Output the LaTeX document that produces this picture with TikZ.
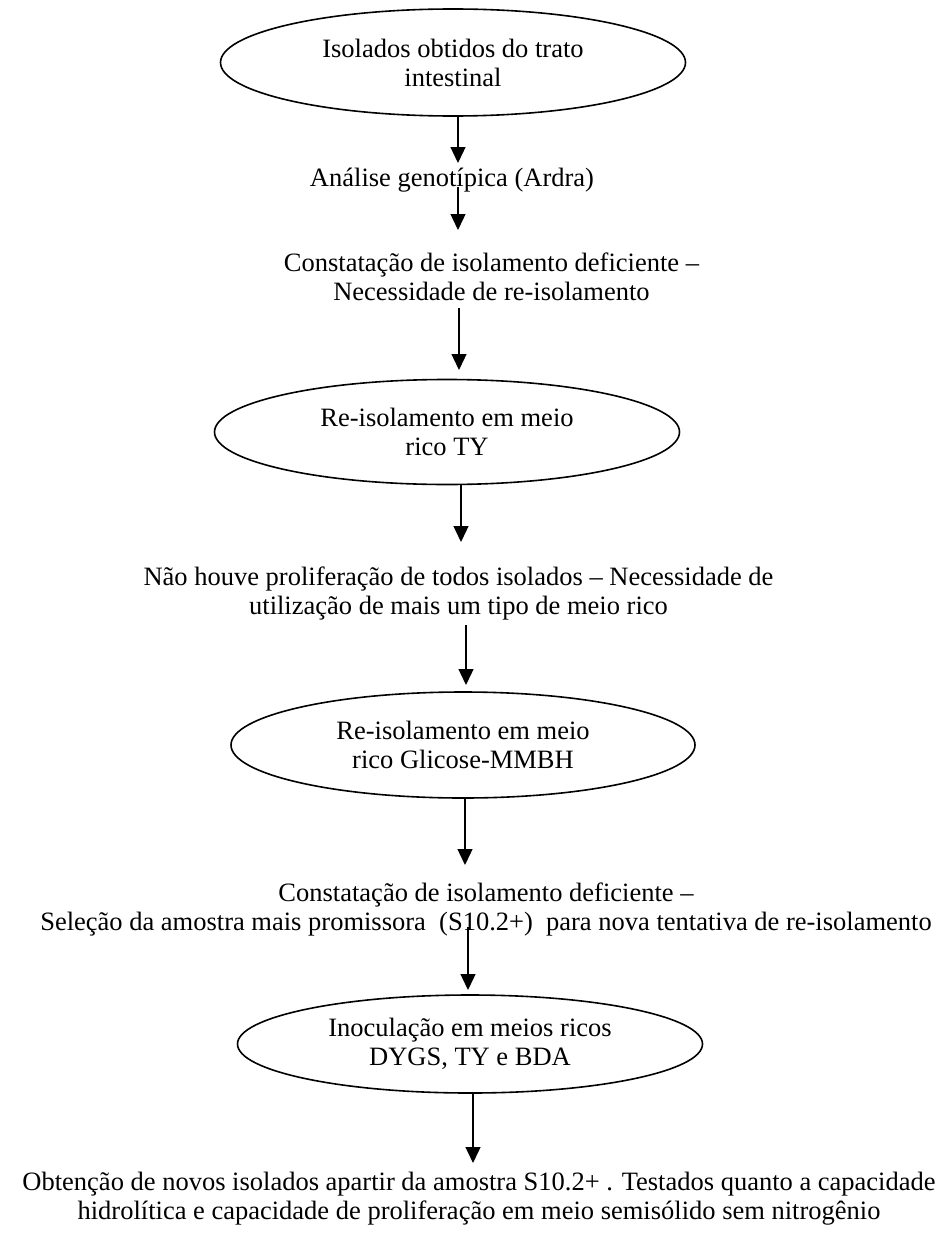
\documentclass[tikz,border=0pt]{standalone}
\usepackage{fontspec}
\setmainfont{Liberation Serif}
\usetikzlibrary{arrows.meta,shapes.geometric}
\begin{document}
\begin{tikzpicture}[x=0.5pt,y=-0.5pt,
  every node/.style={font=\fontsize{13.25pt}{14.5pt}\selectfont},
  oval/.style={draw, ellipse, line width=0.8pt, inner sep=0pt, align=center},
  txt/.style={inner sep=0pt, align=center},
  arr/.style={line width=0.65pt, -{Triangle[length=8pt,width=7.5pt]}}]
\useasboundingbox (0,0) rectangle (939,1236);

% ovals
\node[oval, minimum width=232.5pt, minimum height=53.5pt] (e1) at (453,62.5) {Isolados obtidos do trato\\intestinal};
\node[oval, minimum width=232.5pt, minimum height=52.5pt] (e2) at (447,432) {Re-isolamento em meio\\rico TY};
\node[oval, minimum width=232pt, minimum height=53pt] (e3) at (463,745) {Re-isolamento em meio\\rico Glicose-MMBH};
\node[oval, minimum width=232.5pt, minimum height=49pt] (e4) at (470,1044) {Inoculação em meios ricos\\DYGS, TY e BDA};

% texts
\node[txt] (t1) at (452,180) {Análise genotípica (Ardra)};
\node[txt] (t2) at (491.5,277) {Constatação de isolamento deficiente –\\Necessidade de re-isolamento};
\node[txt] (t3) at (458.5,593) {Não houve proliferação de todos isolados – Necessidade de\\utilização de mais um tipo de meio rico};
\node[txt] (t4) at (486,909) {Constatação de isolamento deficiente –\\Seleção da amostra mais promissora~ (S10.2+)~ para nova tentativa de re-isolamento};
\node[txt] (t5) at (479,1199) {Obtenção de novos isolados apartir da amostra S10.2+ . Testados quanto a capacidade\\hidrolítica e capacidade de proliferação em meio semisólido sem nitrogênio};

% arrow coordinates
\coordinate (a1) at (458,163);
\coordinate (s2) at (458,187);
\coordinate (a2) at (458,230);
\coordinate (s3) at (459,308);
\coordinate (a3) at (459,370);
\coordinate (a4) at (461,542);
\coordinate (s5) at (466,625);
\coordinate (a5) at (466,685);
\coordinate (a6) at (465,865);
\coordinate (s7) at (468,927);
\coordinate (a7) at (468,990);
\coordinate (a8) at (473,1163);

% arrows
\draw[arr] (e1.south -| a1) -- (a1);
\draw[arr] (s2) -- (a2);
\draw[arr] (s3) -- (a3);
\draw[arr] (e2.south -| a4) -- (a4);
\draw[arr] (s5) -- (a5);
\draw[arr] (e3.south -| a6) -- (a6);
\draw[arr] (s7) -- (a7);
\draw[arr] (e4.south -| a8) -- (a8);
\end{tikzpicture}
\end{document}
